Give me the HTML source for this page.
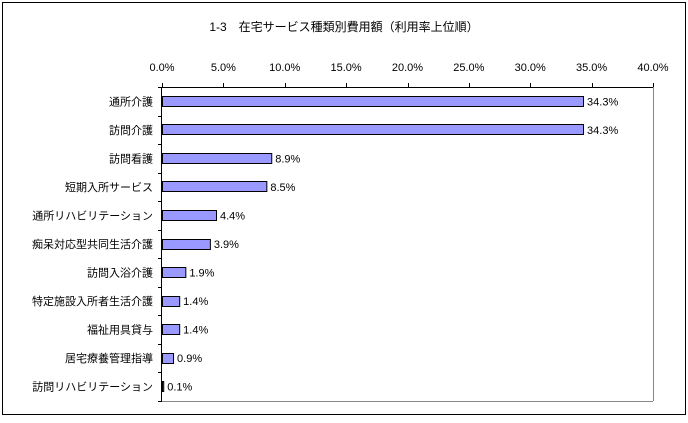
<!DOCTYPE html>
<html><head><meta charset="utf-8"><style>
body{margin:0;background:#fff;}
svg text{font-family:"Liberation Sans","Noto Sans CJK JP",sans-serif;font-size:11px;fill:#000;}
</style></head><body>
<svg width="688" height="418">
<rect x="2.5" y="2.5" width="683" height="412" fill="#fff" stroke="#000"/>
<text x="344" y="31" text-anchor="middle" style="font-size:12px">1-3　在宅サービス種類別費用額（利用率上位順）</text>
<g id="g"></g>
</svg>
<script>
const categories=["通所介護","訪問介護","訪問看護","短期入所サービス","通所リハビリテーション","痴呆対応型共同生活介護","訪問入浴介護","特定施設入所者生活介護","福祉用具貸与","居宅療養管理指導","訪問リハビリテーション"];
const values=[34.3,34.3,8.9,8.5,4.4,3.9,1.9,1.4,1.4,0.9,0.1];
const ticks=[0,5,10,15,20,25,30,35,40];
const ns="http://www.w3.org/2000/svg";
const g=document.getElementById('g');
const x0=162,x1=653,y0=87,y1=401,max=40;
const xs=v=>x0+(x1-x0)*v/max;
const band=(y1-y0)/categories.length;
function mk(t,a,txt){const e=document.createElementNS(ns,t);for(const k in a)e.setAttribute(k,a[k]);if(txt!=null)e.textContent=txt;g.appendChild(e);return e;}
let e;
e=mk('line',{x1:x0,y1:y1+0.5,x2:x1,y2:y1+0.5,stroke:'#888'});


e=mk('line',{x1:x1+0.5,y1:y0,x2:x1+0.5,y2:y1,stroke:'#888'});


e=mk('line',{x1:x0-0.5,y1:y0,x2:x0-0.5,y2:y1,stroke:'#000'});


e=mk('line',{x1:x0,y1:y0+0.5,x2:x1,y2:y0+0.5,stroke:'#000'});


ticks.forEach(t=>{
  const x=Math.round(xs(t))+0.5;
  e=mk('line',{x1:x,y1:y0-4,x2:x,y2:y0,stroke:'#000'});
  
  
  e=mk('text',{x:xs(t),y:71,'text-anchor':'middle'},t.toFixed(1)+'%');
  
  
});
for(let i=0;i<=categories.length;i++){
  const y=Math.round(y0+band*i)+0.5;
  e=mk('line',{x1:x0-4,y1:y,x2:x0,y2:y,stroke:'#000'});
  
  
}
categories.forEach((c,i)=>{
  const cy=y0+band*(i+0.5);
  e=mk('text',{x:153,y:cy+4,'text-anchor':'end'},c);
  
  
  e=mk('rect',{x:x0+0.5,y:Math.round(cy-5.5)+0.5,width:Math.max(xs(values[i])-x0,0.5),height:10,fill:'#9999ff',stroke:'#000'});
  
  
  e=mk('text',{x:xs(values[i])+4,y:cy+4},values[i].toFixed(1)+'%');
  
  
});
</script>
</body></html>
